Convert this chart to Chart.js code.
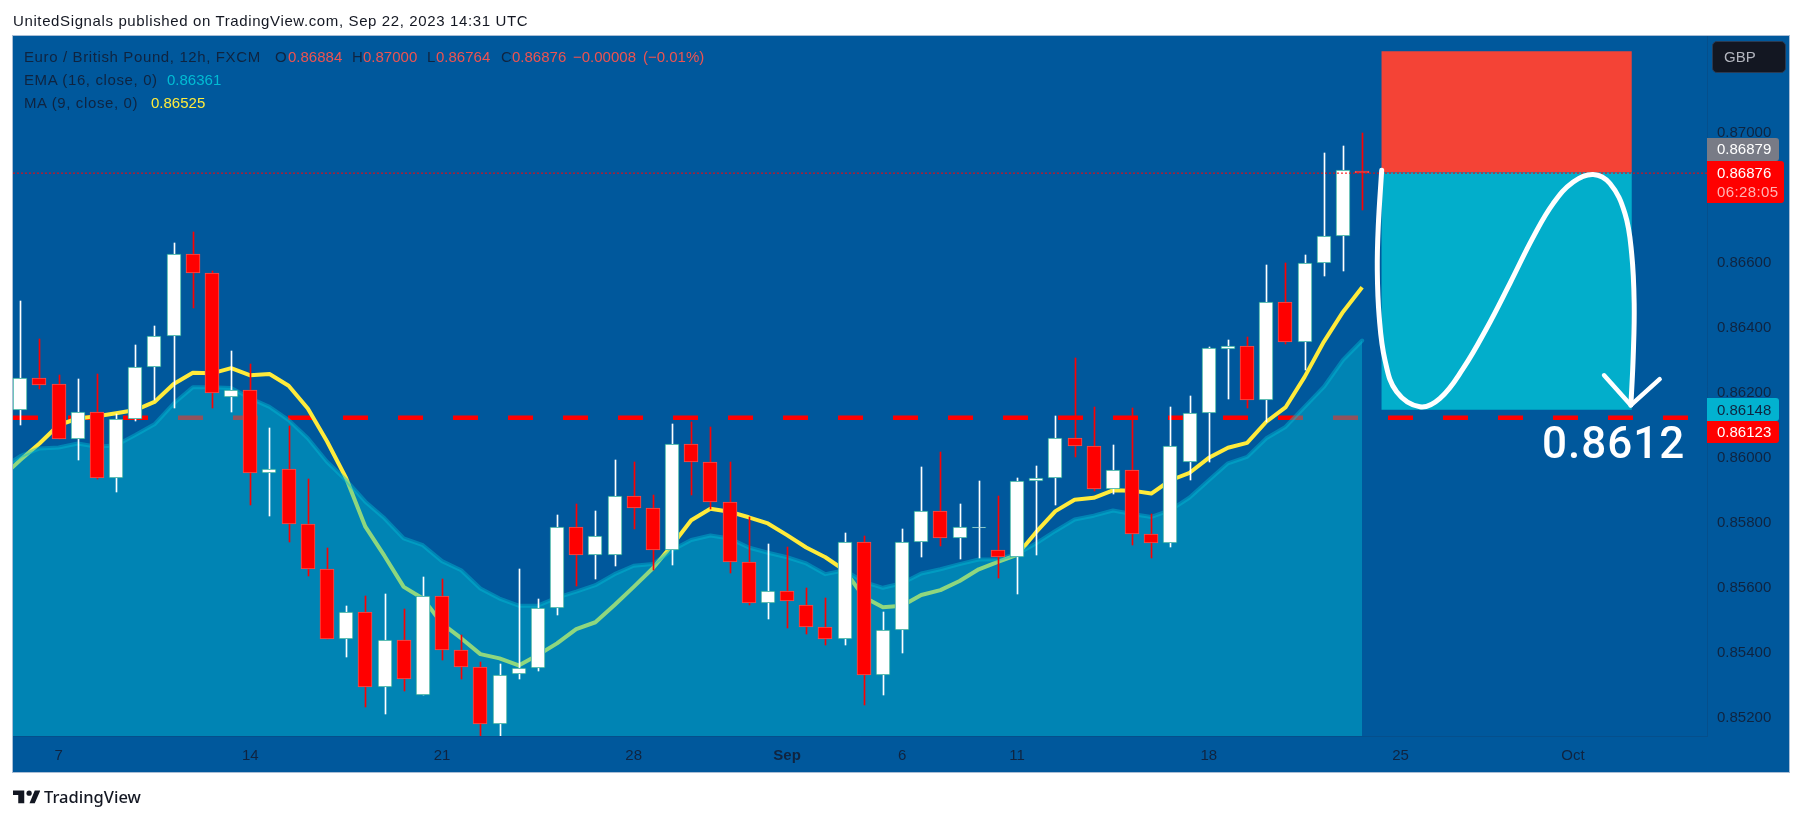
<!DOCTYPE html>
<html><head><meta charset="utf-8">
<style>
html,body{margin:0;padding:0;background:#fff;width:1803px;height:820px;overflow:hidden}
#panel{position:absolute;left:12px;top:35px;width:1778px;height:738px;box-sizing:border-box;border:1px solid #a9bed6;background:#00589c}
canvas{position:absolute;left:0;top:0}
.t{position:absolute;white-space:nowrap;font-family:"Liberation Sans",sans-serif;font-size:15px;line-height:16px;color:#0f2440}
.s{letter-spacing:.62px}
.tag{position:absolute;left:1707px;border-radius:0 3px 3px 0}
</style></head><body>
<div id="panel"></div>
<canvas id="c" width="1803" height="820"></canvas>
<div class="t s" style="left:13px;top:12px;line-height:18px;color:#131722">UnitedSignals published on TradingView.com, Sep 22, 2023 14:31 UTC</div>
<div class="t s" style="left:24px;top:49px">Euro / British Pound, 12h, FXCM</div>
<div class="t" style="left:275px;top:49px">O</div><div class="t" id="vO" style="left:288px;top:49px;color:#ef5350"></div>
<div class="t" style="left:352px;top:49px">H</div><div class="t" id="vH" style="left:363px;top:49px;color:#ef5350"></div>
<div class="t" style="left:427px;top:49px">L</div><div class="t" id="vL" style="left:436px;top:49px;color:#ef5350"></div>
<div class="t" style="left:501px;top:49px">C</div><div class="t" id="vC" style="left:512px;top:49px;color:#ef5350"></div>
<div class="t" id="vD" style="left:573px;top:49px;color:#ef5350"></div>
<div class="t" id="vP" style="left:643px;top:49px;color:#ef5350"></div>
<div class="t s" style="left:24px;top:72px">EMA (16, close, 0)</div><div class="t" id="vE" style="left:167px;top:72px;color:#00bcd4"></div>
<div class="t s" style="left:24px;top:95px">MA (9, close, 0)</div><div class="t" id="vM" style="left:151px;top:95px;color:#ffeb3b"></div>

<div style="position:absolute;left:1712px;top:41px;width:74px;height:32px;box-sizing:border-box;background:#131722;border:1px solid #2a3a52;border-radius:5px"></div>
<div class="t" style="left:1724px;top:49px;color:#b2b5be">GBP</div>

<div class="tag" style="top:138px;width:72px;height:23px;background:#787b86"></div>
<div class="t" id="tagLast" style="left:1717px;top:141px;color:#fff"></div>
<div class="tag" style="top:161px;width:77px;height:42px;background:#ff0000"></div>
<div class="t" id="tagClose" style="left:1717px;top:165px;color:#fff"></div>
<div class="t" id="tagTime" style="left:1717px;top:184px;color:#ffb3b3;letter-spacing:.4px"></div>
<div class="tag" style="top:398px;width:72px;height:23px;background:#02b2d0"></div>
<div class="t" id="tagEntry" style="left:1717px;top:402px;color:#0f2440"></div>
<div class="tag" style="top:421px;width:72px;height:22px;background:#ff0000"></div>
<div class="t" id="tagLevel" style="left:1717px;top:424px;color:#fff"></div>

<div class="t" id="bigLevel" style="left:1542px;top:417px;font-family:Roboto,sans-serif;font-weight:500;font-size:44px;line-height:52px;letter-spacing:1px;color:#fff"></div>

<svg style="position:absolute;left:13px;top:789px" width="27" height="15" viewBox="0 0 36 20"><path fill="#131722" d="M15 2H0v6h7v11h8V2zM29 19h-7L29 2h7.5L29 19z"/><circle cx="21.5" cy="5.5" r="3.5" fill="#131722"/></svg>
<div class="t" style="left:44px;top:786px;font-family:'Noto Sans',sans-serif;font-size:16.5px;line-height:22px;color:#131722;font-weight:500">TradingView</div>

<script src="https://cdn.jsdelivr.net/npm/chart.js@4/dist/chart.umd.min.js"></script>
<script>
const opens=[.86146,.86247,.86226,.86058,.86140,.85938,.86118,.86278,.86374,.86626,.86569,.86186,.86210,.85952,.85967,.85795,.85657,.85444,.85527,.85294,.85438,.85269,.85574,.85410,.85357,.85180,.85334,.85354,.85538,.85786,.85700,.85700,.85881,.85846,.85715,.86044,.85986,.85863,.85678,.85552,.85589,.85546,.85478,.85441,.85740,.85331,.85469,.85740,.85835,.85752,.85785,.85715,.85694,.85930,.85937,.86060,.86035,.85903,.85961,.85767,.85737,.85986,.86137,.86335,.86343,.86177,.86478,.86357,.86598,.86684,.86884];
const closes=[.86247,.86225,.86058,.86140,.85938,.86118,.86278,.86374,.86626,.86569,.86198,.86210,.85952,.85967,.85795,.85657,.85444,.85527,.85294,.85438,.85318,.85574,.85410,.85357,.85180,.85332,.85354,.85538,.85786,.85700,.85758,.85881,.85846,.85715,.86044,.85986,.85863,.85678,.85552,.85589,.85558,.85478,.85441,.85740,.85331,.85469,.85740,.85835,.85752,.85786,.85786,.85694,.85930,.85937,.86060,.86035,.85903,.85961,.85767,.85737,.86035,.86137,.86337,.86343,.86177,.86478,.86357,.86598,.86684,.86887,.86876];
const highs=[.86482,.86365,.86254,.86242,.86258,.86134,.86347,.86405,.86661,.86695,.86574,.86328,.86290,.86091,.86098,.85934,.85722,.85544,.85575,.85581,.85534,.85633,.85627,.85454,.85372,.85365,.85658,.85565,.85824,.85858,.85836,.85993,.85987,.85885,.86104,.86110,.86094,.85987,.85818,.85734,.85725,.85599,.85568,.85768,.85759,.85525,.85781,.85971,.86018,.85858,.85928,.85882,.85938,.85974,.86128,.86307,.86156,.86039,.86153,.85827,.86156,.86190,.86341,.86362,.86371,.86593,.86599,.86624,.86938,.86959,.87000];
const lows=[.86101,.86211,.86058,.85993,.85934,.85894,.86113,.86178,.86153,.86461,.86153,.86141,.85854,.85821,.85742,.85637,.85444,.85388,.85234,.85211,.85282,.85269,.85378,.85319,.85145,.85145,.85319,.85345,.85516,.85606,.85627,.85668,.85781,.85654,.85670,.85885,.85844,.85645,.85547,.85504,.85476,.85458,.85423,.85424,.85239,.85270,.85399,.85695,.85729,.85688,.85691,.85630,.85581,.85701,.85854,.86002,.85898,.85888,.85731,.85692,.85725,.85931,.85988,.86181,.86153,.86110,.86351,.86270,.86559,.86574,.86764];
// first value of each study belongs to the bar just left of the visible range
const maValues=[.85938,.85993,.86044,.86101,.86121,.86128,.86137,.86147,.86172,.86227,.86262,.86260,.86276,.86254,.86258,.86222,.86152,.86051,.85937,.85788,.85698,.85603,.85567,.85490,.85445,.85396,.85383,.85361,.85393,.85429,.85473,.85494,.85547,.85603,.85660,.85731,.85808,.85843,.85834,.85817,.85798,.85762,.85724,.85694,.85654,.85572,.85540,.85545,.85578,.85593,.85621,.85657,.85680,.85701,.85772,.85836,.85871,.85877,.85900,.85899,.85890,.85931,.85954,.86000,.86031,.86046,.86111,.86155,.86249,.86357,.86449,.86525];
const emaValues=[.85967,.86005,.86029,.86032,.86044,.86034,.86039,.86070,.86103,.86167,.86217,.86217,.86215,.86183,.86157,.86116,.86060,.85988,.85931,.85865,.85814,.85752,.85731,.85682,.85654,.85598,.85567,.85545,.85545,.85570,.85588,.85608,.85642,.85668,.85673,.85716,.85747,.85761,.85752,.85724,.85708,.85694,.85675,.85642,.85654,.85618,.85600,.85614,.85644,.85657,.85673,.85687,.85688,.85704,.85737,.85775,.85810,.85822,.85838,.85827,.85818,.85839,.85878,.85931,.85983,.86003,.86060,.86095,.86157,.86218,.86301,.86361];
const xRange=[-0.38,87.99];
const priceRange=[.85144,.87298];
const priceTicks=[.852,.854,.856,.858,.860,.862,.864,.866,.868,.870];
const timeTickIdx=[2,12,22,32,40,46,52,62,72,81];
const timeTickLabels=['7','14','21','28','Sep','6','11','18','25','Oct'];
const levelPrice=.86123, lastClose=.86876, entryPrice=.86878, stopPrice=.87251, targetPrice=.86148;
const boxX=[71,84.07];
const curveX=[71.02,70.84,70.79,70.89,71.19,71.80,73.01,74.06,75.27,76.49,77.71,78.93,79.97,81.01,82.05,82.93,83.71,84.06,84.19,84.14,84.02];
const curveY=[.86885,.86711,.86578,.86434,.86301,.86203,.86157,.86183,.86275,.86398,.86537,.8668,.86783,.86849,.86872,.86844,.86752,.86629,.86475,.86311,.86162];
const arrowX=[82.62,84.02,85.52];
const arrowY=[.86254,.86162,.86242];
const legendValues={vO:'0.86884',vH:'0.87000',vL:'0.86764',vC:'0.86876',vD:'\u22120.00008',vP:'(\u22120.01%)',vE:'0.86361',vM:'0.86525',
  tagLast:'0.86879',tagClose:'0.86876',tagTime:'06:28:05',tagEntry:'0.86148',tagLevel:'0.86123',bigLevel:'0.8612'};
for(const k in legendValues)document.getElementById(k).textContent=legendValues[k];

const up=i=>closes[i]>=opens[i];
const idx=opens.map((_,i)=>i);
const xy=(xs,ys)=>xs.map((x,i)=>({x,y:ys[i]}));
const studyX=maValues.map((_,i)=>i-1);
const hline=v=>[{x:xRange[0],y:v},{x:xRange[1],y:v}];
const lineBase={type:'line',pointRadius:0,pointHoverRadius:0,tension:0};
const axisFont='"Liberation Sans",sans-serif';

const snap={id:'snap',beforeDatasetsDraw(chart){
  chart.data.datasets.forEach((d,di)=>{
    if(d.type!=='bar')return;
    const odd=d.barThickness%2===1;
    chart.getDatasetMeta(di).data.forEach(el=>{
      el.x=Math.round(el.x)+(odd?.5:0);
      el.y=Math.round(el.y);el.base=Math.round(el.base);
    });
  });
}};

new Chart(document.getElementById('c'),{
  type:'bar',
  plugins:[snap],
  data:{datasets:[
    {...lineBase,label:'Level',order:12,data:hline(levelPrice),borderColor:'#ff0000',borderWidth:4.5,borderDash:[25,30],fill:false},
    {...lineBase,label:'MA',order:11,data:xy(studyX,maValues),borderColor:'#ffeb3b',borderWidth:4,borderJoinStyle:'round',fill:false},
    {...lineBase,label:'EMA',order:10,data:xy(studyX,emaValues),borderColor:'rgba(0,188,212,.44)',borderWidth:4,borderCapStyle:'round',borderJoinStyle:'round',fill:'start',backgroundColor:'rgba(0,188,212,.44)'},
    {...lineBase,label:'Stop',order:9,data:xy(boxX,[stopPrice,stopPrice]),borderWidth:0,fill:{value:entryPrice},backgroundColor:'#f44336'},
    {...lineBase,label:'Target',order:8,data:xy(boxX,[targetPrice,targetPrice]),borderWidth:0,fill:{value:entryPrice},backgroundColor:'#02aecb'},
    {type:'bar',label:'Wicks',order:7,grouped:false,barThickness:1,borderWidth:0,data:idx.map(i=>({x:i,y:[lows[i],highs[i]]})),backgroundColor:idx.map(i=>up(i)?'#ffffff':'#ff0000')},
    {type:'bar',label:'Bodies',order:6,grouped:false,barThickness:14,borderWidth:1,borderSkipped:false,data:idx.map(i=>({x:i,y:[opens[i],closes[i]]})),backgroundColor:idx.map(i=>up(i)?'#ffffff':'#ff0000'),borderColor:idx.map(i=>up(i)?'#26a69a':'#ef5350')},
    {...lineBase,label:'Last',order:5,data:hline(lastClose),borderColor:'#ff0000',borderWidth:1,borderDash:[2,2],fill:false},
    {...lineBase,label:'Curve',order:4,data:xy(curveX,curveY),borderColor:'#ffffff',borderWidth:5,tension:.4,borderCapStyle:'round',fill:false},
    {...lineBase,label:'Arrow',order:3,data:xy(arrowX,arrowY),borderColor:'#ffffff',borderWidth:4.5,borderCapStyle:'round',borderJoinStyle:'round',fill:false}
  ]},
  options:{
    responsive:false,animation:false,devicePixelRatio:1,
    layout:{padding:{left:13,top:36,right:14,bottom:48}},
    plugins:{legend:{display:false},tooltip:{enabled:false}},
    events:[],
    scales:{
      x:{type:'linear',offset:false,min:xRange[0],max:xRange[1],
        afterBuildTicks(s){s.ticks=timeTickIdx.map(v=>({value:v}));},
        afterFit(s){s.height=36;},
        grid:{display:false},border:{display:true,color:'#054f8c'},
        ticks:{autoSkip:false,maxRotation:0,padding:3,color:'#0f2440',
          callback:v=>timeTickLabels[timeTickIdx.indexOf(v)],
          font:c=>({family:axisFont,size:15,weight:c.tick&&c.tick.label==='Sep'?'bold':'normal'})}},
      y:{type:'linear',position:'right',min:priceRange[0],max:priceRange[1],
        afterBuildTicks(s){s.ticks=priceTicks.map(v=>({value:v}));},
        afterFit(s){s.width=82;},
        grid:{display:false},border:{display:true,color:'#054f8c'},
        ticks:{padding:2,color:'#0f2440',callback:v=>v.toFixed(5),font:{family:axisFont,size:15}}}
    }
  }
});
</script>
</body></html>
